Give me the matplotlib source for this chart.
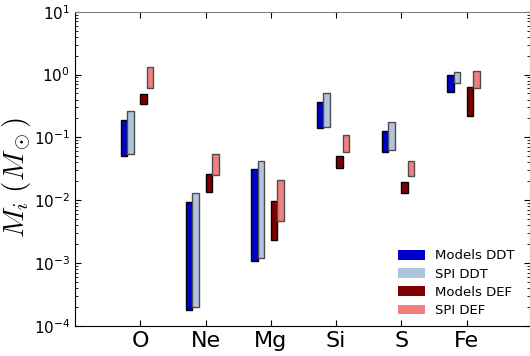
import numpy as np
import matplotlib
matplotlib.use("Agg")
import matplotlib.pyplot as plt
from matplotlib.patches import Patch

elements = ['O', 'Ne', 'Mg', 'Si', 'S', 'Fe']

# ranges (min, max) in solar masses
models_ddt_lo = [0.051, 0.000178, 0.00108, 0.139, 0.0577, 0.52]
models_ddt_hi = [0.188, 0.00944, 0.031, 0.36, 0.127, 1.0]
spi_ddt_lo = [0.054, 0.000196, 0.00118, 0.148, 0.0628, 0.73]
spi_ddt_hi = [0.262, 0.0131, 0.0424, 0.50, 0.177, 1.10]
models_def_lo = [0.343, 0.0136, 0.00234, 0.032, 0.0131, 0.22]
models_def_hi = [0.49, 0.0259, 0.0097, 0.051, 0.0196, 0.625]
spi_def_lo = [0.616, 0.0251, 0.0047, 0.058, 0.0245, 0.60]
spi_def_hi = [1.30, 0.0536, 0.0209, 0.11, 0.042, 1.14]

series = [
    ('Models DDT', models_ddt_lo, models_ddt_hi, '#0000cd', 'black', -0.3),
    ('SPI DDT', spi_ddt_lo, spi_ddt_hi, '#b0c4de', '0.3', -0.2),
    ('Models DEF', models_def_lo, models_def_hi, '#800000', 'black', 0.0),
    ('SPI DEF', spi_def_lo, spi_def_hi, '#f08080', '0.3', 0.1),
]

fig = plt.figure(figsize=(5.30, 3.56), dpi=100)
ax = fig.add_axes([0.1415, 0.085, 0.8585, 0.882])

x = np.arange(1, len(elements) + 1)
handles = []
for name, lo, hi, col, ec, off in series:
    lo = np.array(lo)
    hi = np.array(hi)
    ax.bar(x + off, hi - lo, bottom=lo, width=0.1, align='edge',
           color=col, edgecolor=ec, linewidth=1.0)
    handles.append(Patch(facecolor=col, edgecolor='none', label=name))

ax.set_yscale('log')
ax.set_ylim(1e-4, 10)
ax.set_xlim(0, 6.97)
ax.set_xticks(x)
ax.set_xticklabels(elements, fontsize=16)
ax.tick_params(axis='both', which='both', direction='in', top=True, right=True)
ax.tick_params(axis='y', which='major', labelsize=11, length=4)
ax.tick_params(axis='y', which='minor', length=2.5)
ax.tick_params(axis='x', which='major', length=4, pad=4)
ax.spines['top'].set_color('0.5')

ax.set_ylabel(r'$M_i\ (M_\odot)$', fontsize=21, math_fontfamily='cm')
ax.yaxis.set_label_coords(-0.092, 0.47)

ax.legend(handles=handles, loc='lower right', frameon=False, fontsize=9.5,
          handlelength=2.0, handleheight=0.75, labelspacing=0.4,
          handletextpad=0.8, bbox_to_anchor=(0.985, 0.0), borderaxespad=0.25)

fig.savefig('out.png', dpi=100)
